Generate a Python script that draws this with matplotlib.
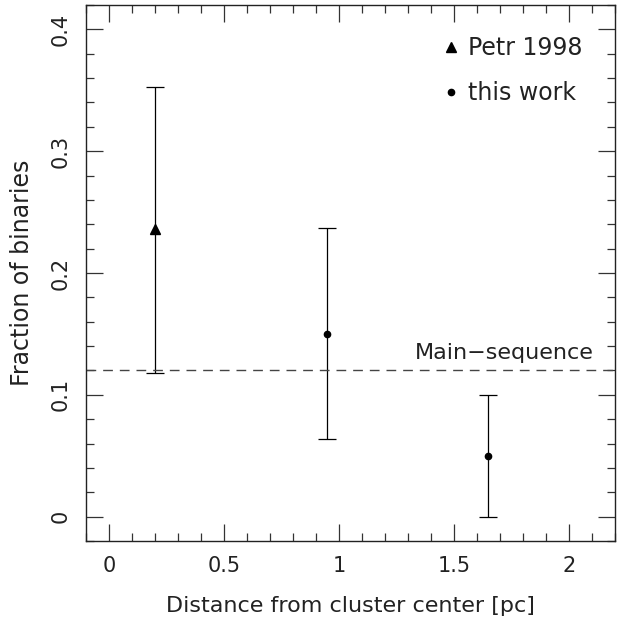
import matplotlib.pyplot as plt
from matplotlib.ticker import MultipleLocator

# Petr 1998
petr_x = [0.2]
petr_y = [0.236]
petr_lo = [0.118]
petr_hi = [0.117]

# this work
work_x = [0.95, 1.65]
work_y = [0.15, 0.05]
work_lo = [0.086, 0.05]
work_hi = [0.087, 0.05]

main_seq = 0.12


def main():
    plt.rcParams['font.family'] = 'DejaVu Sans'
    fig = plt.figure(figsize=(6.21, 6.32), dpi=100)
    ax = fig.add_axes([0.1385, 0.144, 0.8515, 0.848])

    # error bars
    ax.errorbar(petr_x, petr_y, yerr=[petr_lo, petr_hi], fmt='none',
                ecolor='black', elinewidth=0.9, capsize=6.5, capthick=0.9)
    ax.errorbar(work_x, work_y, yerr=[work_lo, work_hi], fmt='none',
                ecolor='black', elinewidth=0.9, capsize=6.5, capthick=0.9)

    # punkty
    p1, = ax.plot(petr_x, petr_y, '^', color='black', markersize=7, linestyle='none',
                  label='Petr 1998')
    p2, = ax.plot(work_x, work_y, 'o', color='black', markersize=4.5, linestyle='none',
                  label='this work')

    ax.axhline(main_seq, color='#444444', linestyle=(0, (7, 5)), linewidth=1)
    ax.text(2.11, main_seq + 0.006, 'Main\u2212sequence', ha='right', va='bottom',
            fontsize=16, color='#222222')

    ax.set_xlim(-0.1, 2.2)
    ax.set_ylim(-0.02, 0.42)

    ax.xaxis.set_major_locator(MultipleLocator(0.5))
    ax.xaxis.set_minor_locator(MultipleLocator(0.1))
    ax.yaxis.set_major_locator(MultipleLocator(0.1))
    ax.yaxis.set_minor_locator(MultipleLocator(0.02))
    ax.set_xticks([0, 0.5, 1, 1.5, 2])
    ax.set_xticklabels(['0', '0.5', '1', '1.5', '2'])
    ax.set_yticks([0, 0.1, 0.2, 0.3, 0.4])
    ax.set_yticklabels(['0', '0.1', '0.2', '0.3', '0.4'], rotation=90, va='center')

    ax.tick_params(which='both', direction='in', top=True, right=True,
                   color='#333333', labelcolor='#222222', labelsize=15)
    ax.tick_params(which='major', length=12, width=0.9, pad=11)
    ax.tick_params(which='minor', length=6, width=0.9)
    for s in ax.spines.values():
        s.set_linewidth(1.0)
        s.set_color('#222222')

    ax.set_xlabel('Distance from cluster center [pc]', fontsize=16, color='#222222',
                  labelpad=14)
    ax.set_ylabel('Fraction of binaries', fontsize=17, color='#222222', labelpad=12)

    ax.legend(handles=[p1, p2], loc='upper right', frameon=False, fontsize=17,
              handlelength=0.5, handletextpad=0.5, labelspacing=0.9,
              bbox_to_anchor=(0.98, 0.982), labelcolor='#222222')

    plt.savefig('out.png', dpi=100)


if __name__ == "__main__":
    main()
